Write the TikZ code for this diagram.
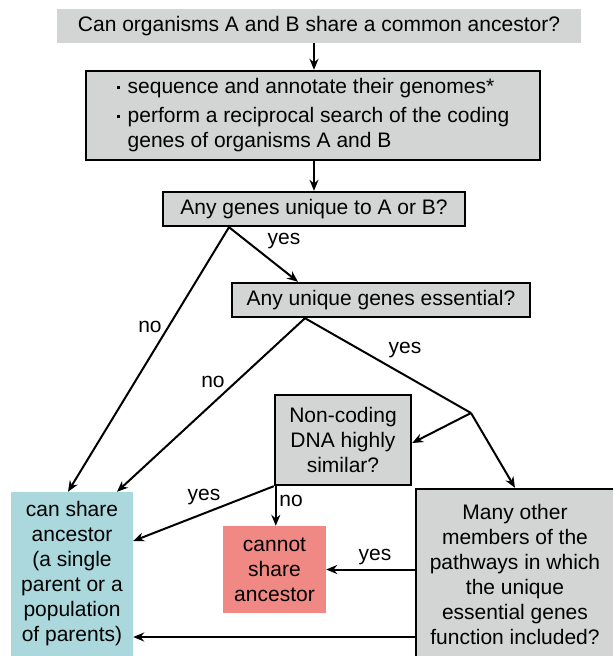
\documentclass[tikz,border=0pt]{standalone}
\usepackage{fontspec}
\setmainfont{Liberation Sans}
\usetikzlibrary{arrows.meta}
\definecolor{boxgray}{RGB}{211,212,212}
\definecolor{sharecol}{RGB}{170,216,221}
\definecolor{notcol}{RGB}{240,136,131}
\newcommand{\bul}{\makebox[11pt][l]{\rule[5pt]{3pt}{3pt}}}

\begin{document}
\begin{tikzpicture}[x=1pt,y=1pt]
\tikzstyle{every node}+=[inner sep=0pt, font=\fontsize{21}{25}\selectfont]
\tikzstyle{box}=[draw, line width=2.4pt, fill=boxgray, align=center]
\tikzstyle{link}=[line width=2pt, -{Stealth[length=11pt,width=9pt]}]
\useasboundingbox (0,0) rectangle (613,-656);
\node (ask) [fill=boxgray, minimum width=524pt, minimum height=34pt] at (319,-26) {Can organisms A and B share a common ancestor?};
\node (steps) [box, align=left, minimum width=454pt, minimum height=89pt] at (313,-115.5) {\bul sequence and annotate their genomes*\\[4pt]\bul perform a reciprocal search of the coding\\\hspace*{11pt}genes of organisms A and B};
\node (unique) [box, minimum width=302pt, minimum height=34pt] at (314,-209) {Any genes unique to A or B?};
\node (essential) [box, minimum width=298pt, minimum height=34pt] at (381,-300) {Any unique genes essential?};
\node (noncoding) [box, minimum width=136pt, minimum height=90pt] at (343,-440) {Non-coding\\DNA highly\\similar?};
\node (canshare) [fill=sharecol, align=center, minimum width=122pt, minimum height=164pt] at (72,-574) {can share\\ancestor\\(a single\\parent or a\\population\\of parents)};
\node (cannot) [fill=notcol, align=center, minimum width=103pt, minimum height=87pt] at (274.5,-569.5) {cannot\\share\\ancestor};
\node (pathways) [box, minimum width=198pt, minimum height=170pt] at (515,-574) {Many other\\members of the\\pathways in which\\the unique\\essential genes\\function included?};
\coordinate (fork) at (471,-413);
\draw [link] ([xshift=-5pt]ask.south) -- ([xshift=1pt]steps.north);
\draw [link] ([xshift=1pt]steps.south) -- (unique.north);
\draw [link] ([xshift=-85pt]unique.south) -- ([xshift=-4pt]canshare.north);
\draw [link] ([xshift=-85pt]unique.south) -- ([xshift=-83pt]essential.north);
\draw [link] ([xshift=-76pt]essential.south) -- ([xshift=45pt]canshare.north);
\draw [line width=2pt] ([xshift=-76pt]essential.south) -- (fork);
\draw [link] (fork) -- ([yshift=-3pt]noncoding.east);
\draw [link] (fork) -- (pathways.north);
\draw [link] (noncoding.south west) -- ([yshift=33pt]canshare.east);
\draw [link] ([xshift=2pt]noncoding.south west) -- ([xshift=2pt]noncoding.south west |- cannot.north);
\draw [link] (pathways.west |- cannot.east) -- (cannot.east);
\draw [link] ([yshift=-63pt]pathways.west) -- ([yshift=-63pt]canshare.east);
\node (no1) at (150,-327) {no};
\node (yes1) at (284,-241) {yes};
\node (no2) at (213,-382) {no};
\node (yes2) at (405,-350) {yes};
\node (yes3) at (204,-497) {yes};
\node (no3) at (291,-501) {no};
\node (yes4) at (375,-557) {yes};
\end{tikzpicture}
\end{document}
